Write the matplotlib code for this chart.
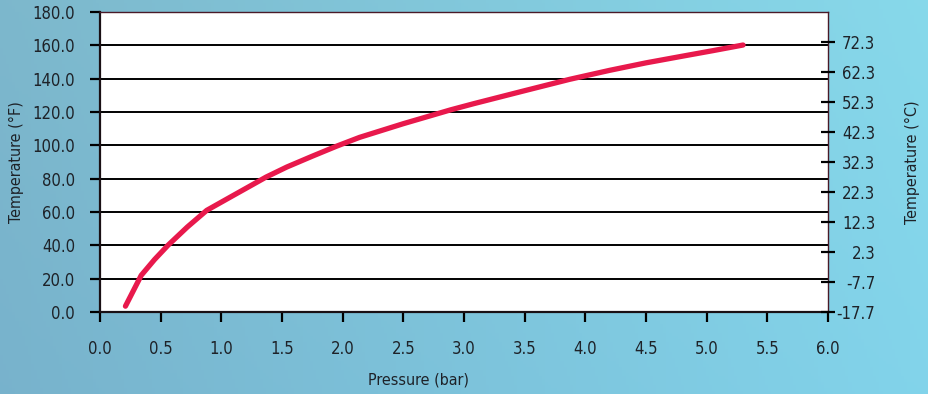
import numpy as np
import matplotlib.pyplot as plt
from matplotlib import font_manager
from matplotlib.font_manager import FontProperties

# Curve values (pressure in bar, temperature in F)
pressure = [0.21, 0.34, 0.45, 0.56, 0.72, 0.88, 1.10, 1.37, 1.54, 1.75, 1.95, 2.14,
            2.50, 2.89, 3.08, 3.50, 3.87, 4.20, 4.50, 4.80, 5.05, 5.30]
temp_f = [3.5, 22.0, 31.5, 40.0, 51.0, 61.0, 70.0, 81.0, 87.0, 93.5, 99.5, 104.8,
          113.0, 121.3, 125.0, 132.8, 139.6, 145.0, 149.5, 153.5, 156.8, 160.2]

x_ticks = [0.0, 0.5, 1.0, 1.5, 2.0, 2.5, 3.0, 3.5, 4.0, 4.5, 5.0, 5.5, 6.0]
yf_ticks = [0, 20, 40, 60, 80, 100, 120, 140, 160, 180]
yc_ticks = [-17.7, -7.7, 2.3, 12.3, 22.3, 32.3, 42.3, 52.3, 62.3, 72.3]


# look for a condensed sans face, the original uses a narrow font
def find_narrow():
    best = None
    for f in font_manager.fontManager.ttflist:
        nm = f.name + ' ' + str(f.stretch) + ' ' + f.fname
        if f.style != 'normal' or f.weight not in (400, 'normal', 'regular', 500, 'medium'):
            continue
        low = nm.lower()
        if 'extra' in low or 'ultra' in low or 'semi' in low or 'mono' in low:
            continue
        if 'condensed' in low or 'narrow' in low:
            score = 0 if 'sans' in low else 1
            if best is None or score < best[0]:
                best = (score, f.fname)
    return best[1] if best else None


path = find_narrow()
if path:
    fp = FontProperties(fname=path)
    fs_tick, fs_lab = 12, 11.5
else:
    fp = FontProperties(family='DejaVu Sans')
    fs_tick, fs_lab = 11, 10
txt_col = '#1e2228'

fig = plt.figure(figsize=(9.29, 3.94), dpi=100)

# blue background with a soft gradient
bg = fig.add_axes([0, 0, 1, 1], zorder=-10)
gx = np.linspace(0, 1, 300)
gy = np.linspace(0, 1, 130)
X, Y = np.meshgrid(gx, gy)
r = 0.47 + 0.04 * X + 0.02 * Y
g = 0.70 + 0.13 * X + 0.02 * Y
b = 0.80 + 0.12 * X
img = np.dstack([r, g, b]).clip(0, 1)
bg.imshow(img, aspect='auto', extent=[0, 1, 0, 1], origin='lower')
bg.axis('off')

ax = fig.add_axes([0.1076, 0.2081, 0.7837, 0.7614])
ax.set_facecolor('white')
ax.plot(pressure, temp_f, color='#e8194c', lw=3.8, solid_capstyle='round', zorder=5)

ax.set_xlim(0, 6)
ax.set_ylim(0, 180)
ax.set_xticks(x_ticks)
ax.set_xticklabels(['%.1f' % v for v in x_ticks])
ax.set_yticks(yf_ticks)
ax.set_yticklabels(['%.1f' % v for v in yf_ticks])
ax.grid(axis='y', color='black', lw=1.4)
ax.set_axisbelow(True)

ax.tick_params(axis='both', direction='out', length=7, width=1.6, color='black',
               labelcolor=txt_col)
ax.tick_params(axis='x', pad=13)
ax.tick_params(axis='y', pad=11)

for side in ['top', 'right']:
    ax.spines[side].set_color('#4a1a28')
    ax.spines[side].set_linewidth(1.0)
for side in ['left', 'bottom']:
    ax.spines[side].set_color('#1a1014')
    ax.spines[side].set_linewidth(1.6)

ax.set_xlabel('Pressure (bar)', fontproperties=fp, fontsize=fs_lab, color=txt_col)
ax.xaxis.set_label_coords(0.437, -0.2)
ax.set_ylabel('Temperature (°F)', fontproperties=fp, fontsize=fs_lab, color=txt_col)
ax.yaxis.set_label_coords(-0.104, 0.5)

# Celsius axis on the right
ax2 = ax.twinx()
ax2.set_ylim((0 - 32) * 5 / 9, (180 - 32) * 5 / 9)
ax2.set_yticks(yc_ticks)
ax2.set_yticklabels(['%.1f' % v for v in yc_ticks])
ax2.tick_params(axis='y', direction='inout', length=10, width=1.6, color='black',
                labelcolor=txt_col, pad=29)
for s in ax2.spines.values():
    s.set_visible(False)
ax2.set_ylabel('Temperature (°C)', fontproperties=fp, fontsize=fs_lab, color=txt_col)
ax2.yaxis.set_label_coords(1.106, 0.5)

for lbl in ax.get_xticklabels() + ax.get_yticklabels() + ax2.get_yticklabels():
    lbl.set_fontproperties(fp)
    lbl.set_fontsize(fs_tick)
for lbl in ax2.get_yticklabels():
    lbl.set_horizontalalignment('right')

plt.savefig('out.png', dpi=100)
